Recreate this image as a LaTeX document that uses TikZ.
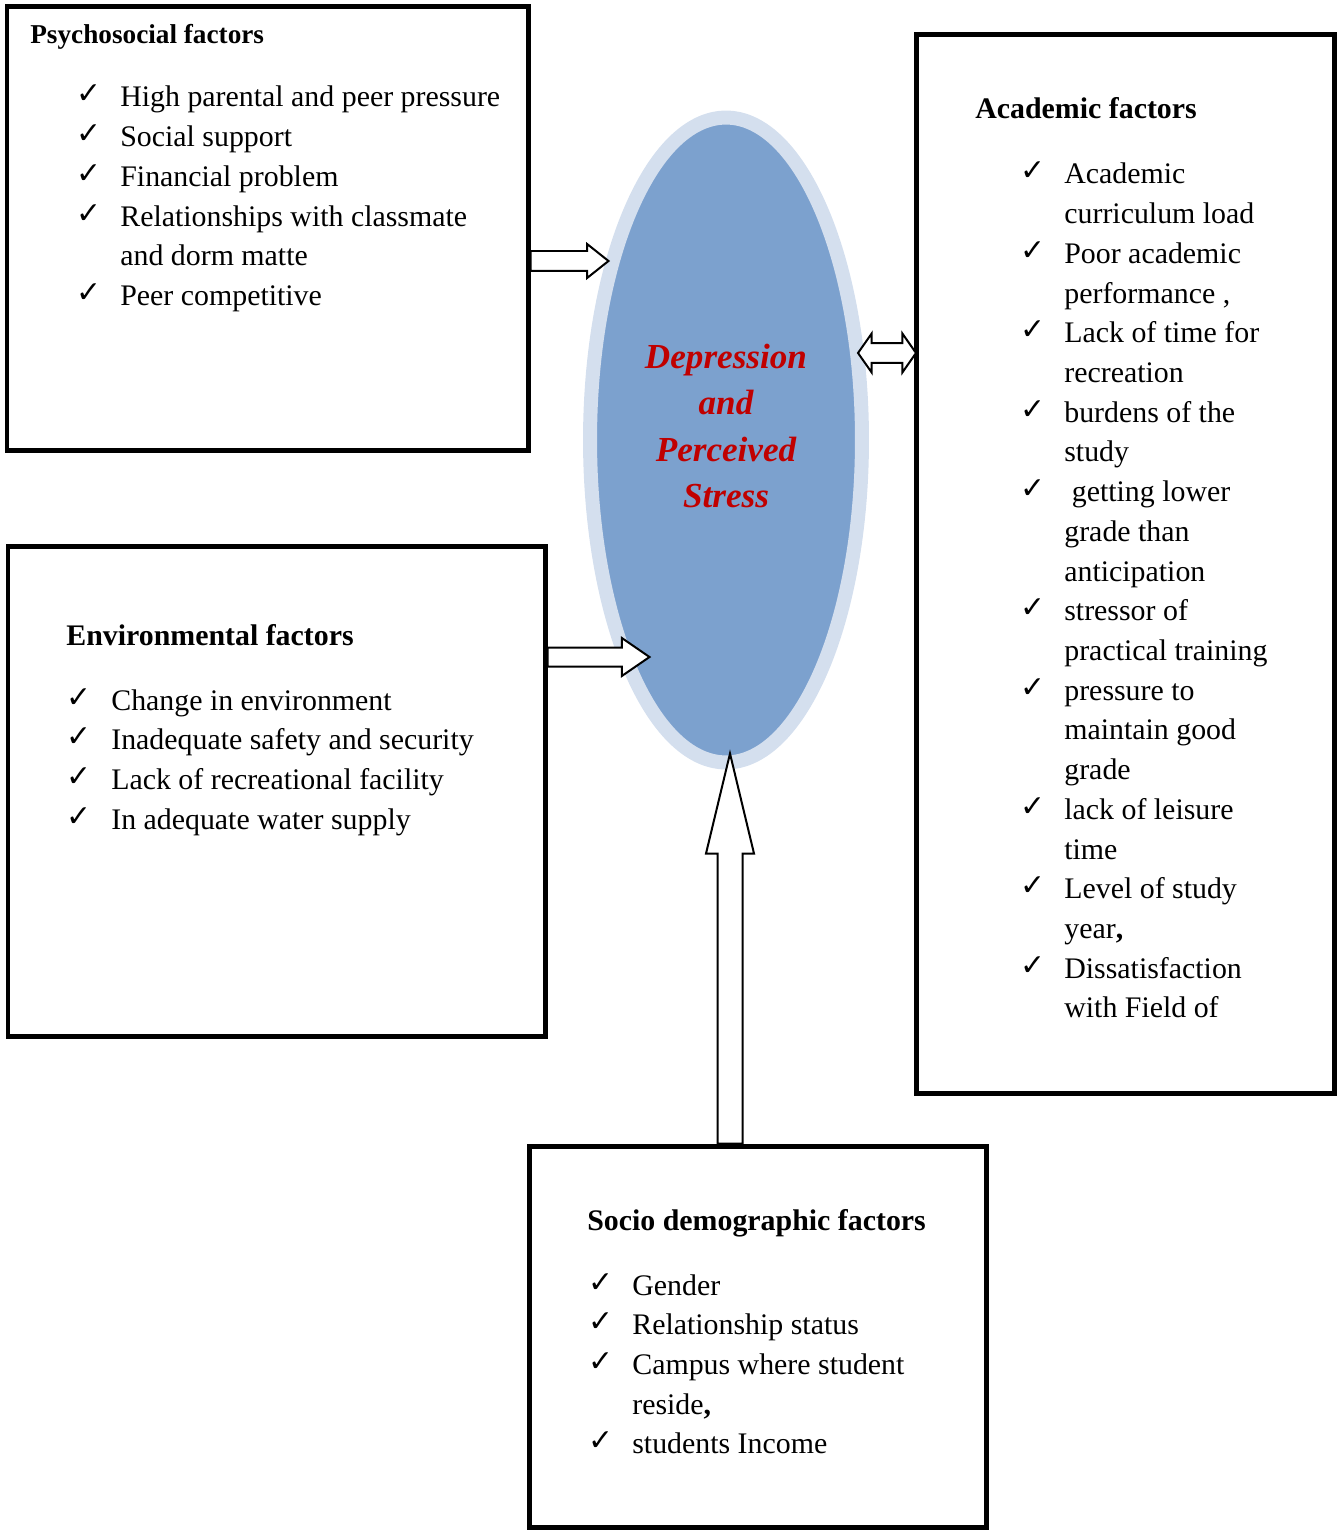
\documentclass[tikz,border=0pt]{standalone}
\usepackage{fontspec}
\setmainfont{Liberation Serif}
\newfontfamily\symbfont{DejaVu Sans}
\usepackage{tikz}
\usetikzlibrary{shapes.geometric,shapes.arrows,positioning,fit}
\definecolor{ringBlue}{RGB}{212,223,238}
\definecolor{coreBlue}{RGB}{124,161,206}
\definecolor{stressRed}{RGB}{192,0,0}
\newcommand{\chk}{\raisebox{0.06cm}{\symbfont\fontsize{17}{17}\selectfont ✓}}

\begin{document}
\begin{tikzpicture}[x=0.02cm, y=-0.02cm,
  factorbox/.style={draw, line width=0.1cm, inner sep=0pt},
  boxtitle/.style={inner sep=0pt, anchor=base west, font=\fontsize{17}{22.6}\selectfont\bfseries},
  itemlist/.style={inner sep=0pt, anchor=base west, font=\fontsize{17}{22.6}\selectfont},
  blockarrow/.style={single arrow, draw, fill=white, line width=0.04cm, inner xsep=0pt, outer sep=0pt},
  dblarrow/.style={double arrow, draw, fill=white, line width=0.04cm, inner xsep=0pt, outer sep=0pt}]

\useasboundingbox (0,0) rectangle (1340,1530);

% centre ellipse
\node[ellipse, draw=ringBlue, fill=coreBlue, line width=0.28cm, inner sep=0pt, outer sep=0pt,
      minimum width=5.44cm, minimum height=12.9cm] (core) at (726,440) {};
\node[align=center, text=stressRed, font=\fontsize{20}{26.5}\selectfont\bfseries\itshape] (coreT) at (726,426)
  {Depression\\and\\Perceived\\Stress};

% factor boxes
\node[factorbox, fit={(7,7) (528,450)}] (psy) {};
\node[factorbox, fit={(916,35) (1334,1093)}] (acad) {};
\node[factorbox, fit={(8,546) (545,1036)}] (env) {};
\node[factorbox, fit={(529,1146) (986,1527)}] (soc) {};

\node[boxtitle, font=\fontsize{15.5}{20}\selectfont\bfseries] (psyT) at (30,44) {Psychosocial factors};
\node[itemlist] (psyL) at (76,107) {\begin{tabular}[t]{@{}p{0.88cm}@{}l@{}}
\chk & High parental and peer pressure\\
\chk & Social support\\
\chk & Financial problem\\
\chk & Relationships with classmate\\
     & and dorm matte\\
\chk & Peer competitive
\end{tabular}};

\node[boxtitle] (acadT) at (975,119) {Academic factors};
\node[itemlist] (acadL) at (1020,184) {\begin{tabular}[t]{@{}p{0.88cm}@{}l@{}}
\chk & Academic\\
     & curriculum load\\
\chk & Poor academic\\
     & performance ,\\
\chk & Lack of time for\\
     & recreation\\
\chk & burdens of the\\
     & study\\
\chk & \ getting lower\\
     & grade than\\
     & anticipation\\
\chk & stressor of\\
     & practical training\\
\chk & pressure to\\
     & maintain good\\
     & grade\\
\chk & lack of leisure\\
     & time\\
\chk & Level of study\\
     & year\textbf{,}\\
\chk & Dissatisfaction\\
     & with Field of
\end{tabular}};

\node[boxtitle] (envT) at (66,645) {Environmental factors};
\node[itemlist] (envL) at (66,710) {\begin{tabular}[t]{@{}p{0.9cm}@{}l@{}}
\chk & Change in environment\\
\chk & Inadequate safety and security\\
\chk & Lack of recreational facility\\
\chk & In adequate water supply
\end{tabular}};

\node[boxtitle] (socT) at (587,1230) {Socio demographic factors};
\node[itemlist] (socL) at (588,1295) {\begin{tabular}[t]{@{}p{0.88cm}@{}l@{}}
\chk & Gender\\
\chk & Relationship status\\
\chk & Campus where student\\
     & reside\textbf{,}\\
\chk & students Income
\end{tabular}};

% block arrows
\coordinate (a4x) at (730,0);
\node[blockarrow, anchor=tail, minimum height=1.56cm, inner ysep=0.18cm,
      single arrow head extend=0.14cm, single arrow tip angle=77] (a1) at (psy.east |- 0,261) {};
\node[dblarrow, minimum height=1.16cm, inner ysep=0.18cm,
      double arrow head extend=0.19cm, double arrow tip angle=110] (a2) at (887,353) {};
\node[blockarrow, anchor=tail, minimum height=2.04cm, inner ysep=0.17cm,
      single arrow head extend=0.19cm, single arrow tip angle=69] (a3) at (env.east |- 0,657) {};
\node[blockarrow, rotate=90, anchor=tail, minimum height=7.8cm, inner ysep=0.23cm,
      single arrow head extend=0.23cm, single arrow tip angle=27] (a4) at (a4x |- soc.north) {};

\end{tikzpicture}
\end{document}
